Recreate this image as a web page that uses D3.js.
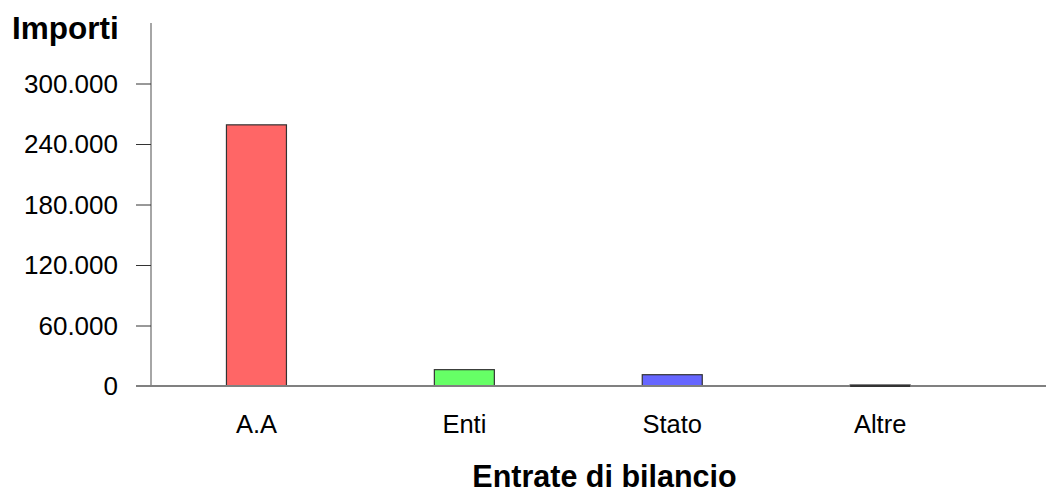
<!DOCTYPE html>
<html><head><meta charset="utf-8">
<script src="https://cdn.jsdelivr.net/npm/d3@7"></script>
<style>body{margin:0;background:#fff}svg{display:block}text{font-family:"Liberation Sans",Arial,sans-serif;fill:#000}</style>
</head><body><svg id="c" width="1046" height="494"></svg>
<script>
const categories = ["A.A", "Enti", "Stato", "Altre"];
const values = [259000, 16200, 11200, 1000];
const colors = ["#FF6666", "#66FF66", "#6666FF", "#333399"];
const yTicks = [0, 60000, 120000, 180000, 240000, 300000];
const yMax = 360000;
const yTitle = "Importi";
const xTitle = "Entrate di bilancio";

const svg = d3.select("#c");
const x = d3.scaleBand().domain(categories).range([152.5, 984.1]).padding(0);
const y = d3.scaleLinear().domain([0, yMax]).range([386, 23]);
const barW = 60;
const fmt = v => d3.format(",")(v).replace(/,/g, ".");

// y axis
const yAxis = svg.append("g").attr("transform", "translate(151,0)")
  .call(d3.axisLeft(y).tickValues(yTicks).tickSize(15).tickPadding(18).tickFormat(fmt));
yAxis.select(".domain").attr("d", `M0,${y(yMax)}V${y(0)}`).attr("stroke", "#808080").attr("stroke-width", 1.4);
yAxis.selectAll(".tick line").attr("stroke", "#333").attr("stroke-width", 1);
yAxis.selectAll(".tick text").attr("font-size", 26).attr("fill", "#000").attr("dy", "0.34em")
  .attr("font-family", "Liberation Sans, Arial, sans-serif");

// bars
svg.append("g").selectAll("rect").data(categories).join("rect")
  .attr("x", d => x(d) + x.bandwidth() / 2 - barW / 2)
  .attr("y", (d, i) => y(values[i]))
  .attr("width", barW)
  .attr("height", (d, i) => y(0) - y(values[i]))
  .attr("fill", (d, i) => colors[i])
  .attr("stroke", "#333")
  .attr("stroke-width", 1.2);

// x axis line
svg.append("line").attr("x1", 136).attr("x2", 1046).attr("y1", y(0)).attr("y2", y(0))
  .attr("stroke", "#808080").attr("stroke-width", 2);
// redraw the Altre bar edge over axis (dark segment visible in reference)
svg.append("g").selectAll("line").data(categories.filter((d, i) => values[i] < 2000)).join("line")
  .attr("x1", d => x(d) + x.bandwidth() / 2 - barW / 2)
  .attr("x2", d => x(d) + x.bandwidth() / 2 + barW / 2)
  .attr("y1", y(0)).attr("y2", y(0))
  .attr("stroke", "#333").attr("stroke-width", 2);

// x labels
const xAxis = svg.append("g").attr("transform", `translate(0,${y(0)})`)
  .call(d3.axisBottom(x).tickSize(0).tickPadding(29));
xAxis.select(".domain").remove();
xAxis.selectAll(".tick text").attr("font-size", 25.5).attr("fill", "#000").attr("dy", "0.71em")
  .attr("font-family", "Liberation Sans, Arial, sans-serif");

// titles
svg.append("text").attr("x", 12).attr("y", 39).attr("font-size", 31.5).attr("font-weight", "bold").text(yTitle);
svg.append("text").attr("x", 604.5).attr("y", 487).attr("text-anchor", "middle").attr("font-size", 30.5).attr("font-weight", "bold").text(xTitle);
</script></body></html>
